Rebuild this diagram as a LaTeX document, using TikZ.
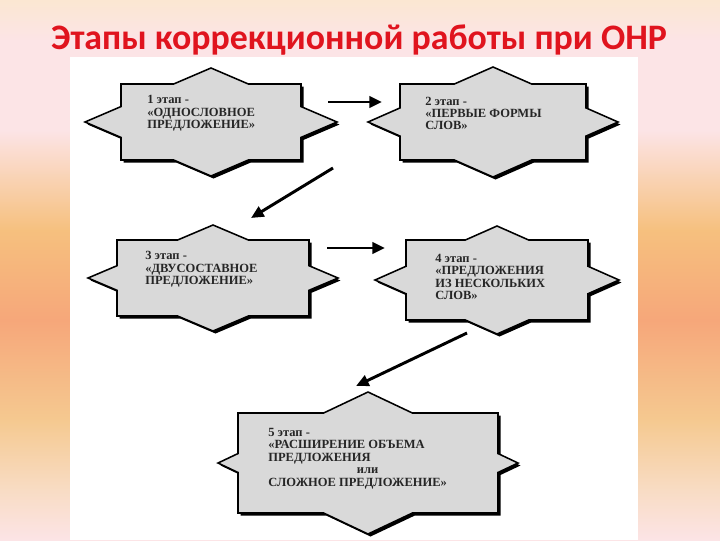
\documentclass[tikz,border=0pt]{standalone}
\usepackage{fontspec}
\setmainfont{Liberation Serif}
\newfontfamily\titlefont{Carlito}
\usetikzlibrary{arrows.meta}
\definecolor{titlered}{HTML}{E0141E}
\definecolor{stargray}{HTML}{D9D9D9}
\definecolor{bgcream}{HTML}{FBE7D2}
\definecolor{bgpink}{HTML}{FCE4E6}
\definecolor{bgpeach}{HTML}{F9D5B4}
\definecolor{bgorange}{HTML}{F6C07E}
\definecolor{bgsalmon}{HTML}{F6A77A}
\definecolor{bglight}{HTML}{F5C990}
\definecolor{bgpale}{HTML}{F8DCC4}

%% #1 name, (#2,#3) centre, #4/#5 half box, #6/#7 tip radii
\newcommand{\stagestar}[7]{%
  \pgfmathsetmacro{\cutx}{#6*(1-#5/#7)}%
  \pgfmathsetmacro{\cuty}{#7*(1-#4/#6)}%
  \coordinate (#1) at (#2,#3);
  \fill[black, shift={(#2+2.5,#3+2.5)}]
    (#6,0) -- (#4,\cuty) -- (#4,#5) -- (\cutx,#5) -- (0,#7) -- (-\cutx,#5)
    -- (-#4,#5) -- (-#4,\cuty) -- (-#6,0) -- (-#4,-\cuty) -- (-#4,-#5)
    -- (-\cutx,-#5) -- (0,-#7) -- (\cutx,-#5) -- (#4,-#5) -- (#4,-\cuty) -- cycle;
  \draw[starbody, shift={(#2,#3)}]
    (#6,0) -- (#4,\cuty) -- (#4,#5) -- (\cutx,#5) -- (0,#7) -- (-\cutx,#5)
    -- (-#4,#5) -- (-#4,\cuty) -- (-#6,0) -- (-#4,-\cuty) -- (-#4,-#5)
    -- (-\cutx,-#5) -- (0,-#7) -- (\cutx,-#5) -- (#4,-#5) -- (#4,-\cuty) -- cycle;
}

\begin{document}
\begin{tikzpicture}[
  x=0.025cm, y=-0.025cm,
  starbody/.style={fill=stargray, draw=black, line width=1.1pt, line join=miter},
  stagetext/.style={font=\bfseries\fontsize{8.9}{8.8}\selectfont, align=left,
                    anchor=west, inner sep=0pt, text=black!85},
  flow/.style={-{Triangle[length=9pt,width=8pt]}, line width=2.1pt}
]
\useasboundingbox (0,0) rectangle (720,540);

%% ---- backdrop --------------------------------------------------------------
\foreach \ya/\yb/\ca/\cb in {0/40/bgcream/bgpink, 40/130/bgpink/bgpink,
    130/230/bgpink/bgorange, 230/320/bgorange/bgsalmon,
    320/420/bgsalmon/bglight, 420/490/bglight/bgpale, 490/540/bgpale/bgpink}
  \shade[top color=\ca, bottom color=\cb, shading angle=0] (0,\ya) rectangle (720,\yb+0.5);
\fill[white] (70,57) rectangle (638,540);

\node[font=\titlefont\bfseries\fontsize{25.5}{28}\selectfont, text=titlered,
      anchor=base] (title) at (359,49) {Этапы коррекционной работы при ОНР};

%% ---- stars -----------------------------------------------------------------
\stagestar{st1}{211}{122}{90}{38}{126}{54}
\stagestar{st2}{493}{122}{93}{38}{125}{55}
\stagestar{st3}{213}{278}{96}{38}{125}{53}
\stagestar{st4}{497}{280}{91}{40}{122}{54}
\stagestar{st5}{368}{463}{130}{50}{150}{71}

\node[stagetext] (t1) at (147,113.5)
  {1 этап -\\«ОДНОСЛОВНОЕ\\ПРЕДЛОЖЕНИЕ»};
\node[stagetext] (t2) at (425,113.5)
  {2 этап -\\«ПЕРВЫЕ ФОРМЫ\\СЛОВ»};
\node[stagetext] (t3) at (145,269.5)
  {3 этап -\\«ДВУСОСТАВНОЕ\\ПРЕДЛОЖЕНИЕ»};
\node[stagetext] (t4) at (435,277)
  {4 этап -\\«ПРЕДЛОЖЕНИЯ\\ИЗ НЕСКОЛЬКИХ\\СЛОВ»};
\node[stagetext] (t5) at (268,458.5)
  {5 этап -\\«РАСШИРЕНИЕ ОБЪЕМА\\ПРЕДЛОЖЕНИЯ\\\hspace*{63pt}или\\СЛОЖНОЕ ПРЕДЛОЖЕНИЕ»};

%% ---- arrows between stages -------------------------------------------------
\draw[flow] ([shift={(117,-20)}]st1) -- ([shift={(-111,-20)}]st2);
\draw[flow] ([shift={(-160,46)}]st2) -- ([shift={(38,-60)}]st3);
\draw[flow] ([shift={(114,-30)}]st3) -- ([shift={(-112,-32)}]st4);
\draw[flow] ([shift={(-30,53)}]st4) -- ([shift={(-12,-77)}]st5);

\end{tikzpicture}
\end{document}
